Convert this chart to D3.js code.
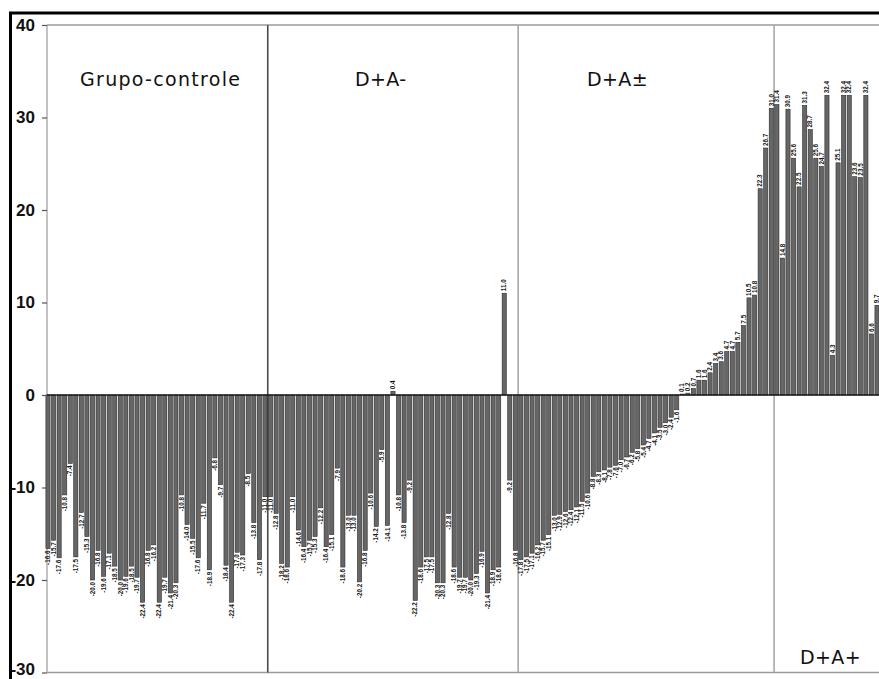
<!DOCTYPE html>
<html>
<head>
<meta charset="utf-8">
<script src="https://cdn.jsdelivr.net/npm/d3@7"></script>
<style>
  html, body { margin: 0; padding: 0; background: #fff; }
  svg { display: block; }
</style>
</head>
<body>
<svg id="chart" width="879" height="679"></svg>
<script>
// ---- data ----
const groupNames = ["Grupo-controle", "D+A-", "D+A±", "D+A+"];
const groupControle = [-16.6,-15.7,-17.6,-10.8,-7.4,-17.5,-12.7,-15.3,-20.0,-16.8,
  -19.6,-17.1,-18.5,-20.0,-19.6,-18.5,-19.7,-22.4,-16.8,-16.2,
  -22.4,-19.7,-21.4,-20.3,-10.8,-14.0,-15.5,-17.6,-11.7,-18.9,
  -6.8,-9.7,-18.4,-22.4,-17.0,-17.3,-8.5,-13.8,-17.8,-11.0];
const groupDAminus = [-11.0,-12.8,-18.2,-18.6,-11.0,-14.6,-16.4,-15.7,-15.3,-12.2,
  -16.4,-15.1,-7.9,-18.6,-13.0,-13.0,-20.2,-16.8,-10.6,-14.2,
  -5.9,-14.1,0.4,-10.8,-13.8,-9.2,-22.2,-18.6,-17.5,-17.5,
  -20.3,-20.3,-12.8,-18.6,-19.7,-19.7,-20.0,-19.3,-16.9,-21.4,
  -18.9,-18.6,11.0,-9.2,-16.8];
const groupDApm = [-17.8,-17.5,-17.1,-16.2,-15.7,-15.1,-13.0,-12.9,-12.6,-12.4,
  -12.1,-11.5,-10.6,-8.8,-8.3,-8.1,-7.8,-7.6,-7.0,-6.7,
  -6.2,-5.8,-5.4,-4.7,-4.1,-3.5,-3.0,-2.4,-1.6,
  0.1,0.2,0.7,1.6,1.6,2.4,3.4,3.6,4.7,4.7,
  5.7,7.5,10.5,10.8,22.3,26.7,31.0];
const groupDAplus = [31.4,14.8,30.9,25.6,22.5,31.3,28.7,25.6,24.7,32.4,
  4.3,25.1,32.4,32.4,23.6,23.5,32.4,6.6,9.7];
const yTicks = [-30,-20,-10,0,10,20,30,40];

// ---- build ----
const groups = [groupControle, groupDAminus, groupDApm, groupDAplus];
const values = [].concat(...groups);
const svg = d3.select("#chart");
svg.append("rect").attr("width",879).attr("height",679).attr("fill","#fff");

const x = d3.scaleBand()
  .domain(d3.range(values.length))
  .range([45.2, 45.2 + values.length * 5.564])
  .paddingInner(0.25)
  .paddingOuter(0.125);
const y = d3.scaleLinear().domain([-30, 40]).range([672.5, 25]);

const plotLeft = 47, plotRight = 879;

// plot frame (gray)
svg.append("line").attr("x1",plotLeft).attr("x2",plotRight).attr("y1",y(40)).attr("y2",y(40))
  .attr("stroke","#9a9a9a").attr("stroke-width",1.5);
svg.append("line").attr("x1",plotLeft).attr("x2",plotRight).attr("y1",y(-30)).attr("y2",y(-30))
  .attr("stroke","#9a9a9a").attr("stroke-width",1.5);
svg.append("line").attr("x1",plotLeft).attr("x2",plotLeft).attr("y1",y(40)).attr("y2",y(-30))
  .attr("stroke","#9a9a9a").attr("stroke-width",1.2);

// group separators
let start = 0;
const sepColors = ["#4a4a4a", "#a8a8a8", "#a8a8a8"];
groups.slice(0, -1).forEach((g, gi) => {
  const last = start + g.length - 1;
  const sx = (x(last) + x.bandwidth() + x(last + 1)) / 2;
  svg.append("line").attr("x1",sx).attr("x2",sx).attr("y1",y(40)).attr("y2",y(-30))
    .attr("stroke", sepColors[gi]).attr("stroke-width",1.6);
  start += g.length;
});

// bars
svg.append("g").selectAll("rect").data(values).join("rect")
  .attr("x", (d,i) => x(i))
  .attr("width", x.bandwidth())
  .attr("y", d => Math.min(y(d), y(0)))
  .attr("height", d => Math.abs(y(d) - y(0)))
  .attr("fill", "#666")
  .attr("stroke", "#2a2a2a")
  .attr("stroke-width", 0.6);

// zero line
svg.append("line").attr("x1",plotLeft).attr("x2",plotRight).attr("y1",y(0)).attr("y2",y(0))
  .attr("stroke","#1a1a1a").attr("stroke-width",1.6);

// value labels
svg.append("g").selectAll("text").data(values).join("text")
  .attr("transform", (d,i) => {
    const cx = x(i) + x.bandwidth()/2 + 2.2;
    const ty = d >= 0 ? y(d) - 2 : y(d) + 2;
    return `translate(${cx},${ty}) rotate(-90)`;
  })
  .attr("text-anchor", d => d >= 0 ? "start" : "end")
  .attr("font-family", "Liberation Sans, Arial, sans-serif")
  .attr("font-weight", "bold")
  .attr("font-size", 6.3)
  .attr("fill", "#151515")
  .text(d => d.toFixed(1));

// y axis
const yAxis = d3.axisLeft(y).tickValues(yTicks).tickSize(5).tickPadding(7)
  .tickFormat(d => String(d));
const gy = svg.append("g").attr("transform", `translate(${plotLeft},0)`).call(yAxis);
gy.select(".domain").remove();
gy.selectAll(".tick line").attr("stroke","#555").attr("stroke-width",1.2);
gy.selectAll(".tick text")
  .attr("font-family","Liberation Sans Narrow, Arial Narrow, Liberation Sans, Arial, sans-serif")
  .attr("font-weight","bold").attr("font-size",17).attr("fill","#111")
  .attr("dy", d => d === -30 ? "0.1em" : "0.32em");

// black outer frame (top and left)
svg.append("path").attr("d","M10.5,679 V13 H879").attr("fill","none")
  .attr("stroke","#000").attr("stroke-width",3);

// group labels
const labelFont = "URW Gothic, Century Gothic, DejaVu Sans, sans-serif";
const groupLabelPos = [[80, 86], [355, 86], [587, 86], [800, 664]];
const groupLabelSpacing = [1.3, 0.4, 0.4, 0.4];
groupNames.forEach((name, i) => {
  svg.append("text").attr("x", groupLabelPos[i][0]).attr("y", groupLabelPos[i][1])
    .attr("font-family", labelFont).attr("font-size", 19).attr("fill","#111")
    .attr("letter-spacing", groupLabelSpacing[i])
    .text(name);
});
</script>
</body>
</html>
